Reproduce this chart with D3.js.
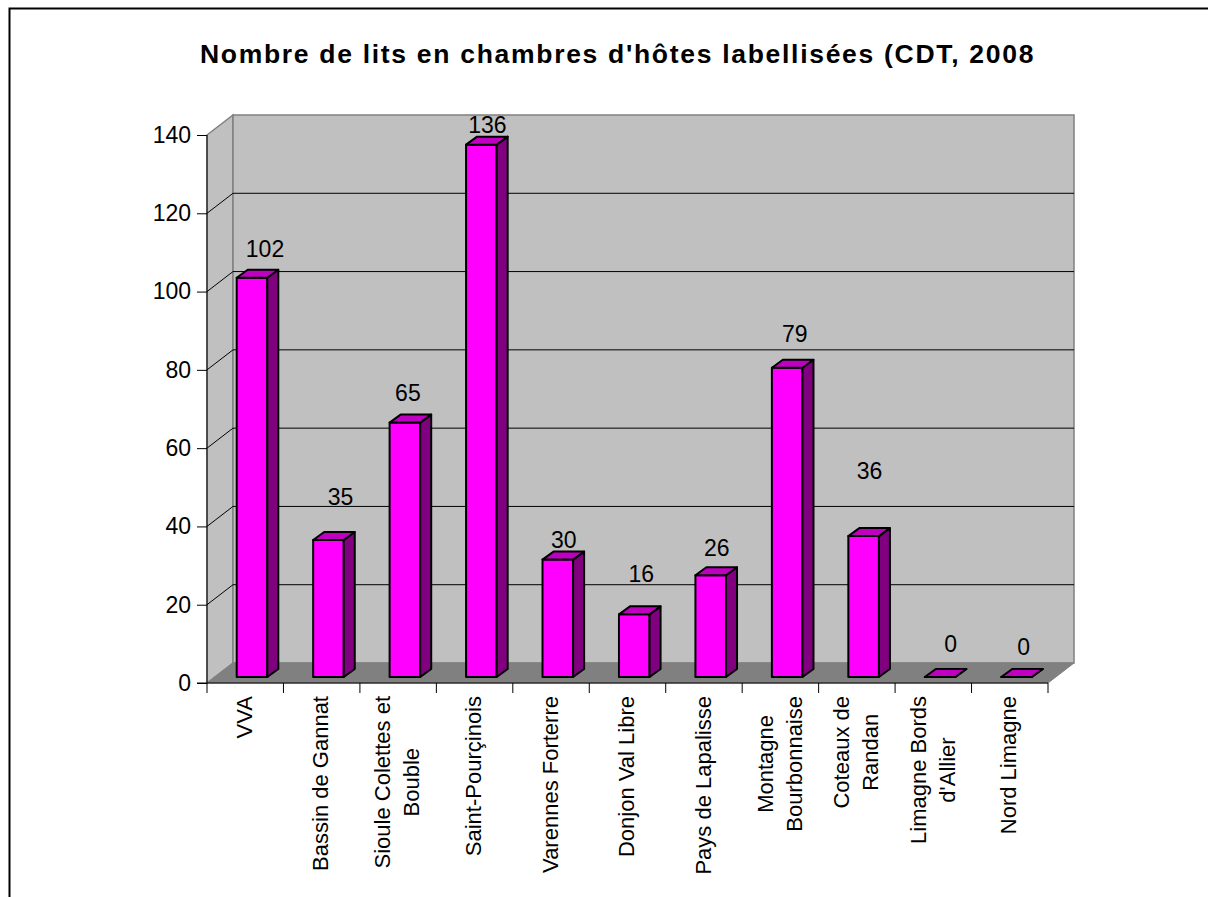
<!DOCTYPE html>
<html>
<head>
<meta charset="utf-8">
<script src="https://cdn.jsdelivr.net/npm/d3@7"></script>
<style>
  html, body { margin: 0; padding: 0; background: #fff; }
  svg { display: block; }
  text { font-family: "Liberation Sans", Arial, sans-serif; fill: #000; }
</style>
</head>
<body>
<svg id="chart" width="1208" height="897"></svg>
<script>
var titleText = "Nombre de lits en chambres d'hôtes labellisées (CDT, 2008"
var categories = ["VVA", "Bassin de Gannat", "Sioule Colettes et|Bouble", "Saint-Pourçinois", "Varennes Forterre",
  "Donjon Val Libre", "Pays de Lapalisse", "Montagne|Bourbonnaise", "Coteaux de|Randan", "Limagne Bords|d'Allier", "Nord Limagne"]
var values = [102, 35, 65, 136, 30, 16, 26, 79, 36, 0, 0]
var yTicks = [0, 20, 40, 60, 80, 100, 120, 140]

// hand nudges for the value labels, the original placed them unevenly
var labelDx = [13, 12, 3, 6, 6, 7, 6, 7.5, 6, 10.5, 7]
var labelDy = [-1, -15, -1.6, 8, 8, -12, 1, -6, -37, -5, -2]

var svg = d3.select("#chart")

var x = d3.scaleBand().domain(categories).range([207, 1048])
var y = d3.scaleLinear().domain([0, 140]).range([683, 135])

var wallDx = 26, wallDy = -20
var barW = 30.6, barLeft = 29.7, barBase = -6
var barDx = 11, barDy = -8
var fontNum = 23, fontCat = 22

var yTop = y(140), yBottom = y(0)
var xLeft = x.range()[0], xRight = x.range()[1]

// outer border, cut off by the picture on the right and at the bottom
svg.append("path")
  .attr("d", "M9.5,897V8.5H1208")
  .attr("fill", "none").attr("stroke", "#000").attr("stroke-width", 2)

// walls and floor
svg.append("polygon")
  .attr("points", [[xLeft, yTop], [xLeft + wallDx, yTop + wallDy], [xLeft + wallDx, yBottom + wallDy], [xLeft, yBottom]].join(" "))
  .attr("fill", "#c0c0c0").attr("stroke", "#808080").attr("stroke-width", 1.5)
svg.append("rect")
  .attr("x", xLeft + wallDx).attr("y", yTop + wallDy)
  .attr("width", xRight - xLeft).attr("height", yBottom - yTop)
  .attr("fill", "#c0c0c0").attr("stroke", "#808080").attr("stroke-width", 1.5)
svg.append("polygon")
  .attr("points", [[xLeft, yBottom], [xLeft + wallDx, yBottom + wallDy], [xRight + wallDx, yBottom + wallDy], [xRight, yBottom]].join(" "))
  .attr("fill", "#808080").attr("stroke", "#808080")

// grid lines on the back wall and the side wall
var grid = yTicks.filter(function (d) { return d > 0 && d < 140 })
svg.selectAll(".gridBack").data(grid).enter().append("line")
  .attr("class", "gridBack")
  .attr("x1", xLeft + wallDx).attr("x2", xRight + wallDx)
  .attr("y1", function (d) { return y(d) + wallDy }).attr("y2", function (d) { return y(d) + wallDy })
  .attr("stroke", "#000")
svg.selectAll(".gridSide").data(grid).enter().append("line")
  .attr("class", "gridSide")
  .attr("x1", xLeft).attr("x2", xLeft + wallDx)
  .attr("y1", function (d) { return y(d) }).attr("y2", function (d) { return y(d) + wallDy })
  .attr("stroke", "#000")

// bars
var bars = svg.selectAll(".bar").data(values).enter().append("g").attr("class", "bar")
var barX = function (i) { return x(categories[i]) + barLeft }

function poly(sel, color, pts) {
  sel.append("polygon")
    .attr("points", function (d, i) { return pts(d, i).join(" ") })
    .attr("fill", color)
    .attr("stroke", "#000").attr("stroke-width", 2)
    .attr("stroke-linejoin", "round")
}
poly(bars, "#ff00ff", function (d, i) {
  var x0 = barX(i), y0 = yBottom + barBase, y1 = y(d) + barBase
  return [[x0, y1], [x0 + barW, y1], [x0 + barW, y0], [x0, y0]]
})
poly(bars, "#800080", function (d, i) {
  var x1 = barX(i) + barW, y0 = yBottom + barBase, y1 = y(d) + barBase
  return [[x1, y1], [x1 + barDx, y1 + barDy], [x1 + barDx, y0 + barDy], [x1, y0]]
})
poly(bars, "#c000c0", function (d, i) {
  var x0 = barX(i), y1 = y(d) + barBase
  return [[x0, y1], [x0 + barDx, y1 + barDy], [x0 + barW + barDx, y1 + barDy], [x0 + barW, y1]]
})

// value labels
svg.selectAll(".valueLabel").data(values).enter().append("text")
  .attr("class", "valueLabel")
  .attr("x", function (d, i) { return barX(i) + barW / 2 + labelDx[i] })
  .attr("y", function (d, i) { return y(d) + barBase - 20 + labelDy[i] })
  .attr("text-anchor", "middle")
  .attr("font-size", fontNum)
  .text(function (d) { return d })

// y axis
var yAxis = svg.append("g").call(d3.axisLeft(y).tickValues(yTicks).tickSize(10).tickPadding(6))
  .attr("transform", "translate(" + xLeft + ",0)")
yAxis.select(".domain").attr("d", "M0," + yTop + "V" + yBottom).attr("stroke", "#000")
yAxis.selectAll("text").attr("font-size", fontNum).style("font-family", "'Liberation Sans', Arial, sans-serif")

// x axis
var xAxis = svg.append("g").attr("transform", "translate(0," + yBottom + ")")
xAxis.append("line").attr("x1", xLeft - 10).attr("x2", xRight).attr("stroke", "#000")
xAxis.selectAll(".xTick").data(d3.range(categories.length + 1)).enter().append("line")
  .attr("class", "xTick")
  .attr("x1", function (i) { return xLeft + i * x.step() }).attr("x2", function (i) { return xLeft + i * x.step() })
  .attr("y1", 0).attr("y2", 10).attr("stroke", "#000")

// category labels, rotated, block top aligned and lines centred on each other
var lineStep = 29
var cat = svg.selectAll(".catLabel").data(categories).enter().append("g")
  .attr("class", "catLabel")
  .attr("transform", function (d) { return "translate(" + (x(d) + x.bandwidth() / 2) + ",696) rotate(-90)" })
cat.each(function (d) {
  var g = d3.select(this)
  var lines = d.split("|")
  var texts = lines.map(function (l, i) {
    return g.append("text").attr("font-size", fontCat)
      .attr("y", (i - (lines.length - 1) / 2) * lineStep + 6.7)
      .text(l)
  })
  var w = d3.max(texts, function (t) { return t.node().getComputedTextLength() })
  texts.forEach(function (t) {
    t.attr("x", -w / 2).attr("text-anchor", "middle")
  })
})

// title
svg.append("text")
  .attr("x", 617.5).attr("y", 63)
  .attr("text-anchor", "middle")
  .attr("font-size", 26.5).attr("font-weight", "bold")
  .attr("letter-spacing", 1.7)
  .text(titleText)
</script>
</body>
</html>
